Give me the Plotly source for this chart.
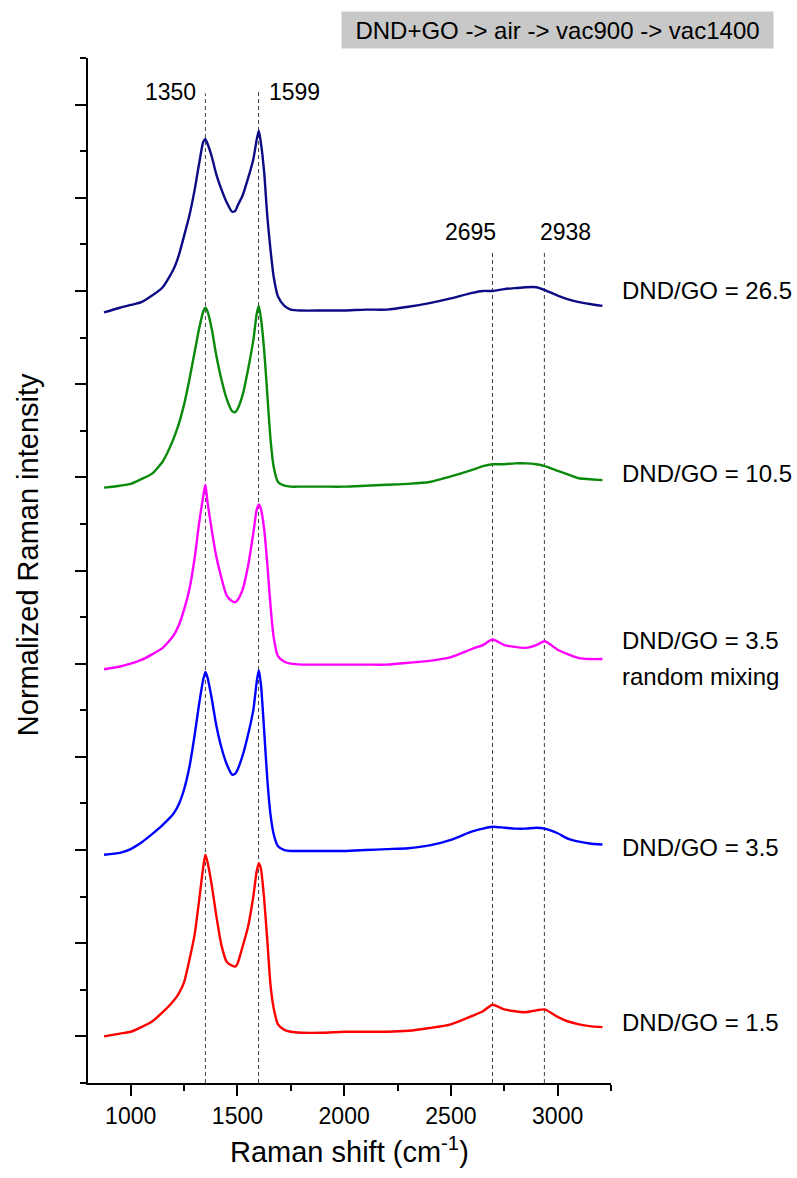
import plotly.graph_objects as go

# ---------------- data ----------------
wavenumber = [875, 950, 1000, 1050, 1100, 1150, 1200, 1225, 1250, 1275, 1300, 1320, 1340, 1350,
              1360, 1380, 1400, 1425, 1450, 1475, 1490, 1500, 1525, 1550, 1575, 1590, 1600, 1610,
              1625, 1640, 1655, 1670, 1690, 1720, 1750, 1800, 1900, 2000, 2100, 2200, 2300, 2400,
              2500, 2600, 2650, 2695, 2750, 2800, 2850, 2900, 2940, 3000, 3050, 3100, 3150, 3210]

int_26_5 = [7.77, 7.82, 7.85, 7.88, 7.95, 8.04, 8.23, 8.38, 8.59, 8.81, 9.09, 9.36, 9.60, 9.63,
            9.58, 9.44, 9.26, 9.09, 8.95, 8.85, 8.86, 8.91, 9.03, 9.21, 9.42, 9.62, 9.72, 9.59,
            9.28, 8.80, 8.44, 8.15, 7.94, 7.84, 7.80, 7.79, 7.79, 7.79, 7.80, 7.80, 7.83, 7.87,
            7.92, 7.98, 8.00, 8.00, 8.02, 8.03, 8.04, 8.04, 8.01, 7.95, 7.91, 7.88, 7.86, 7.84]

int_10_5 = [5.89, 5.91, 5.93, 5.98, 6.04, 6.17, 6.41, 6.57, 6.78, 7.05, 7.35, 7.59, 7.78, 7.82,
            7.78, 7.59, 7.32, 7.05, 6.84, 6.71, 6.70, 6.73, 6.89, 7.16, 7.48, 7.75, 7.84, 7.71,
            7.37, 6.89, 6.41, 6.11, 5.95, 5.91, 5.90, 5.90, 5.90, 5.90, 5.91, 5.92, 5.93, 5.95,
            6.01, 6.08, 6.12, 6.14, 6.14, 6.15, 6.15, 6.14, 6.12, 6.07, 6.03, 5.99, 5.98, 5.97]

int_3_5_random = [3.94, 3.97, 4.00, 4.04, 4.10, 4.17, 4.30, 4.41, 4.58, 4.80, 5.14, 5.50, 5.80, 5.92,
                  5.73, 5.43, 5.16, 4.92, 4.73, 4.67, 4.66, 4.68, 4.80, 5.05, 5.41, 5.65, 5.71, 5.66,
                  5.45, 5.07, 4.62, 4.28, 4.08, 4.02, 4.00, 3.99, 3.99, 3.99, 3.99, 3.99, 4.01, 4.03,
                  4.07, 4.16, 4.20, 4.26, 4.20, 4.18, 4.17, 4.20, 4.24, 4.15, 4.10, 4.06, 4.05, 4.05]

int_3_5 = [1.95, 1.97, 2.01, 2.08, 2.17, 2.27, 2.39, 2.49, 2.65, 2.89, 3.24, 3.56, 3.83, 3.91,
           3.85, 3.62, 3.35, 3.10, 2.92, 2.81, 2.82, 2.86, 3.02, 3.24, 3.51, 3.80, 3.93, 3.78,
           3.29, 2.76, 2.38, 2.17, 2.04, 2.00, 1.99, 1.99, 1.99, 1.99, 2.00, 2.01, 2.02, 2.05,
           2.11, 2.20, 2.23, 2.25, 2.24, 2.23, 2.23, 2.24, 2.23, 2.18, 2.12, 2.09, 2.07, 2.06]

int_1_5 = [0.00, 0.03, 0.05, 0.10, 0.16, 0.26, 0.38, 0.46, 0.58, 0.82, 1.10, 1.45, 1.82, 1.95,
           1.87, 1.62, 1.31, 0.98, 0.80, 0.76, 0.75, 0.78, 0.97, 1.18, 1.51, 1.77, 1.86, 1.80,
           1.48, 1.03, 0.55, 0.30, 0.13, 0.07, 0.05, 0.04, 0.04, 0.05, 0.05, 0.05, 0.06, 0.09,
           0.13, 0.22, 0.27, 0.34, 0.29, 0.27, 0.26, 0.28, 0.29, 0.21, 0.16, 0.13, 0.11, 0.10]

peak_positions = [1350, 1599, 2695, 2938]
peak_labels = ["1350", "1599", "2695", "2938"]
x_ticks = [1000, 1500, 2000, 2500, 3000]

FONT = "Liberation Sans, Arial, sans-serif"

series = [
    (int_26_5, "#0b0b85", "DND/GO = 26.5"),
    (int_10_5, "#0a8a0a", "DND/GO = 10.5"),
    (int_3_5_random, "#ff00ff", "DND/GO = 3.5 random mixing"),
    (int_3_5, "#0000ff", "DND/GO = 3.5"),
    (int_1_5, "#ff0000", "DND/GO = 1.5"),
]

fig = go.Figure()
for ys, col, name in series:
    fig.add_trace(go.Scatter(x=wavenumber, y=ys, mode="lines", name=name,
                             line=dict(color=col, width=2.4, shape="spline", smoothing=0.6),
                             showlegend=False))

# dashed marker lines
line_tops = [10.12, 10.14, 8.44, 8.44]
for xp, top in zip(peak_positions, line_tops):
    fig.add_shape(type="line", xref="x", yref="y", x0=xp, x1=xp, y0=-0.5, y1=top,
                  line=dict(color="#404040", width=1, dash="4px,3px"), layer="below")

# peak labels
peak_label_pos = [(1315, 10.14, "right"), (1638, 10.14, "left"),
                  (2719, 8.63, "right"), (2907, 8.63, "left")]
for (lx, ly, anc), txt in zip(peak_label_pos, peak_labels):
    fig.add_annotation(x=lx, y=ly, xref="x", yref="y", text=txt, showarrow=False,
                       xanchor=anc, yanchor="middle", font=dict(family=FONT, size=23, color="black"))

# curve labels
curve_labels = [("DND/GO = 26.5", 8.01), ("DND/GO = 10.5", 6.04), ("DND/GO = 3.5", 4.25),
                ("random mixing", 3.86), ("DND/GO = 3.5", 2.03), ("DND/GO = 1.5", 0.15)]
for txt, ly in curve_labels:
    fig.add_annotation(x=1.017, y=ly, xref="paper", yref="y", text=txt, showarrow=False,
                       xanchor="left", yanchor="middle", font=dict(family=FONT, size=24, color="black"))

# title box
fig.add_annotation(x=0.8977, y=1.0273, xref="paper", yref="paper",
                   text="DND+GO -> air -> vac900 -> vac1400", showarrow=False,
                   xanchor="center", yanchor="middle", bgcolor="#c8c8c8", borderpad=0,
                   width=431, height=36, font=dict(family=FONT, size=24, color="black"))

# axis titles
fig.add_annotation(x=-0.1147, y=0.515, xref="paper", yref="paper", text="Normalized Raman intensity",
                   textangle=-90, showarrow=False, xanchor="center", yanchor="middle",
                   font=dict(family=FONT, size=29, color="black"))
fig.add_annotation(x=0.5, y=-0.0654, xref="paper", yref="paper", text="Raman shift (cm<sup>-1</sup>)",
                   showarrow=False, xanchor="center", yanchor="middle",
                   font=dict(family=FONT, size=29, color="black"))

fig.update_layout(
    width=797, height=1178,
    margin=dict(l=88, r=186, t=58, b=95),
    paper_bgcolor="white", plot_bgcolor="white",
    font=dict(family=FONT, color="black"),
    xaxis=dict(range=[800, 3250], tickvals=x_ticks, ticks="outside", ticklen=11, tickwidth=2,
               tickcolor="black", showline=True, linecolor="black", linewidth=2, showgrid=False,
               zeroline=False, tickfont=dict(family=FONT, size=23, color="black"),
               minor=dict(dtick=250, tick0=0, ticks="outside", ticklen=6, tickwidth=2, tickcolor="black")),
    yaxis=dict(range=[-0.5, 10.5], dtick=1, tick0=0, ticks="outside", ticklen=11, tickwidth=2,
               tickcolor="black", showline=True, linecolor="black", linewidth=2, showgrid=False,
               zeroline=False, showticklabels=False,
               minor=dict(dtick=0.5, tick0=0, ticks="outside", ticklen=6, tickwidth=2, tickcolor="black")),
)

fig.write_html("out.html")
